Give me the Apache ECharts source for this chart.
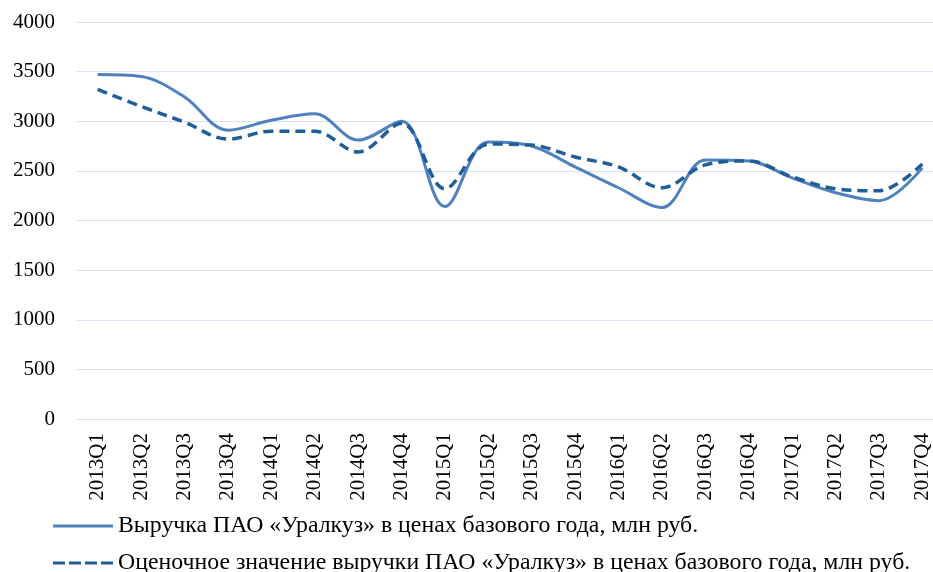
<!DOCTYPE html>
<html>
<head>
<meta charset="utf-8">
<script src="https://cdn.jsdelivr.net/npm/echarts@6/dist/echarts.min.js"></script>
<style>
  html, body { margin: 0; padding: 0; background: #fff; }
  #chart { width: 933px; height: 572px; }
</style>
</head>
<body>
<div id="chart"></div>
<script>
var categories = ['2013Q1', '2013Q2', '2013Q3', '2013Q4', '2014Q1', '2014Q2', '2014Q3', '2014Q4',
  '2015Q1', '2015Q2', '2015Q3', '2015Q4', '2016Q1', '2016Q2', '2016Q3', '2016Q4',
  '2017Q1', '2017Q2', '2017Q3', '2017Q4'];

var actualName = 'Выручка ПАО «Уралкуз» в ценах базового года, млн руб.';
var actual = [3470, 3450, 3245, 2910, 3010, 3075, 2810, 3000, 2140, 2790,
  2750, 2540, 2330, 2130, 2610, 2600, 2430, 2280, 2200, 2530];

var estimateName = 'Оценочное значение выручки ПАО «Уралкуз» в ценах базового года, млн руб.';
var estimate = [3320, 3150, 2990, 2820, 2900, 2900, 2690, 2980, 2320, 2770,
  2760, 2640, 2540, 2330, 2560, 2600, 2440, 2320, 2300, 2570];

var yTicks = { min: 0, max: 4000, interval: 500 };

var chart = echarts.init(document.getElementById('chart'), null, { renderer: 'canvas' });

var font = '"Liberation Serif", "Times New Roman", serif';

var legendText = { fontFamily: font, fontSize: 23.8, color: '#000' };

var option = {
  animation: false,
  textStyle: { fontFamily: font, color: '#000' },
  // plot runs past the right edge of the picture, as in the original
  grid: { left: 76, top: 22, width: 868, height: 397, outerBoundsMode: 'none', containLabel: false },
  legend: [{
    data: [{ name: actualName, icon: 'path://M0,0H60V3H0Z' }],
    left: 53, top: 514, padding: 0,
    itemWidth: 60, itemHeight: 3,
    textStyle: legendText
  }, {
    data: [{ name: estimateName, icon: 'path://M0,0H12V3H0Z M16,0H28V3H16Z M32,0H44V3H32Z M48,0H60V3H48Z' }],
    left: 53, top: 551, padding: 0,
    itemWidth: 60, itemHeight: 3,
    textStyle: legendText
  }],
  xAxis: {
    type: 'category',
    data: categories,
    boundaryGap: true,
    axisLine: { show: false },
    axisTick: { show: false },
    axisLabel: { rotate: 90, margin: 14, fontSize: 21, color: '#000', fontFamily: font }
  },
  yAxis: {
    type: 'value',
    min: yTicks.min,
    max: yTicks.max,
    interval: yTicks.interval,
    axisLine: { show: false },
    axisTick: { show: false },
    axisLabel: {
      margin: 21, fontSize: 21, color: '#000', fontFamily: font,
      formatter: function (v) { return String(v); }
    },
    splitLine: { lineStyle: { color: '#d6e0ee', width: 1 } }
  },
  series: [{
    name: actualName,
    type: 'line',
    data: actual,
    smooth: 0.35,
    showSymbol: false,
    color: '#4f81bd',
    lineStyle: { color: '#4f81bd', width: 3 }
  }, {
    name: estimateName,
    type: 'line',
    data: estimate,
    smooth: 0.35,
    showSymbol: false,
    color: '#1f5f99',
    lineStyle: { color: '#1f5f99', width: 3.5, type: [10, 6] }
  }]
};

chart.setOption(option);
</script>
</body>
</html>
